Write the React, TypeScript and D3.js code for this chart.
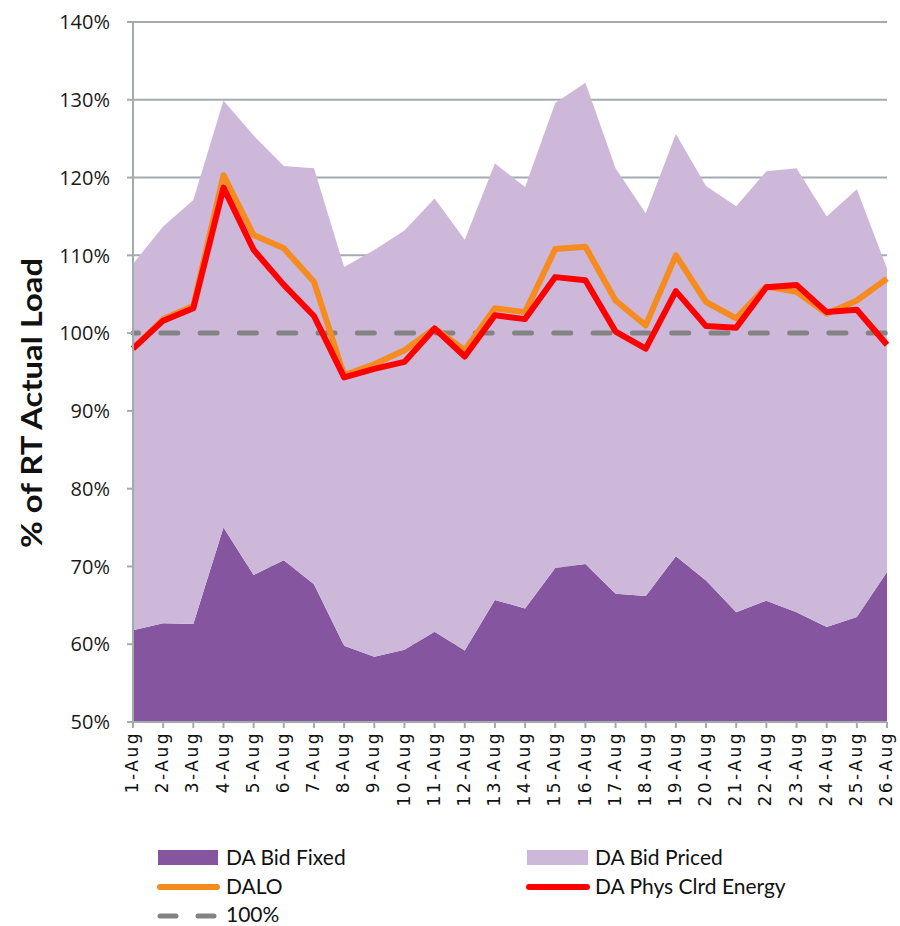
import React from 'react';
import * as d3 from 'd3';

const days = ['1-Aug', '2-Aug', '3-Aug', '4-Aug', '5-Aug', '6-Aug', '7-Aug', '8-Aug', '9-Aug', '10-Aug', '11-Aug', '12-Aug', '13-Aug',
  '14-Aug', '15-Aug', '16-Aug', '17-Aug', '18-Aug', '19-Aug', '20-Aug', '21-Aug', '22-Aug', '23-Aug', '24-Aug', '25-Aug', '26-Aug'];
const bidFixed = [61.8, 62.7, 62.6, 75.0, 68.9, 70.8, 67.7, 59.8, 58.4, 59.3, 61.6, 59.2, 65.7,
  64.6, 69.8, 70.3, 66.5, 66.2, 71.3, 68.2, 64.1, 65.6, 64.1, 62.2, 63.5, 69.3];
const bidPriced = [47.1, 51.0, 54.5, 54.9, 56.5, 50.7, 53.5, 48.7, 52.3, 53.9, 55.7, 52.8, 56.1,
  54.2, 59.8, 61.9, 54.7, 49.2, 54.3, 50.7, 52.2, 55.2, 57.1, 52.8, 55.0, 39.0];
const dalo = [98.0, 101.8, 103.5, 120.3, 112.6, 110.9, 106.6, 94.6, 96.0, 97.8, 100.6, 97.8, 103.2,
  102.7, 110.8, 111.1, 104.2, 101.0, 110.0, 104.0, 101.9, 106.0, 105.3, 102.5, 104.2, 107.0];
const physClrd = [98.0, 101.6, 103.2, 118.7, 110.7, 106.2, 102.2, 94.3, 95.4, 96.3, 100.6, 97.0, 102.3,
  101.8, 107.2, 106.8, 100.2, 98.0, 105.4, 100.9, 100.7, 105.9, 106.2, 102.7, 103.0, 98.5];
const yTicks = [50, 60, 70, 80, 90, 100, 110, 120, 130, 140];
const refLevel = 100;

const W = 900, H = 926;
const left = 133, right = 887, top = 22, bottom = 722;
const gridColor = '#a3abb1';

export default function App() {
  const x = d3.scalePoint<string>().domain(days).range([left, right]);
  const y = d3.scaleLinear().domain([50, 140]).range([bottom, top]);

  const rows = days.map((d, i) => ({ day: d, fixed: bidFixed[i], priced: bidPriced[i] }));
  const stacked = d3.stack<any>().keys(['fixed', 'priced'])(rows);
  const area = d3.area<any>()
    .x(d => x(d.data.day) as number)
    .y0(d => y(d[0]))
    .y1(d => y(d[1]));
  const line = d3.line<number>()
    .x((d, i) => x(days[i]) as number)
    .y(d => y(d));

  const areaColors = ['#8555a0', '#cdb8da'];

  return (
    <svg width={W} height={H} style={{ position: 'absolute', left: 0, top: 0 }}>
      <defs>
        <clipPath id="plot">
          <rect x={left} y={top - 10} width={right - left} height={bottom - top + 10} />
        </clipPath>
      </defs>
      {yTicks.map(t => (
        <line key={'g' + t} x1={left} x2={right} y1={y(t)} y2={y(t)} stroke={gridColor} strokeWidth={2} />
      ))}
      <g clipPath="url(#plot)">
        {stacked.map((s, i) => (
          <path key={s.key} d={area(s) as string} fill={areaColors[i]} />
        ))}
      </g>
      <line x1={left} x2={right} y1={y(refLevel)} y2={y(refLevel)} stroke="#838383" strokeWidth={5}
        strokeDasharray="17 22.3" strokeDashoffset={11.5} strokeLinecap="round" />
      <path d={line(dalo) as string} fill="none" stroke="#f68b1f" strokeWidth={6} strokeLinejoin="round" />
      <path d={line(physClrd) as string} fill="none" stroke="#ff0000" strokeWidth={6} strokeLinejoin="round" />

      {/* axes */}
      <line x1={left} x2={left} y1={top} y2={bottom} stroke={gridColor} strokeWidth={2} />
      <line x1={left} x2={right} y1={bottom} y2={bottom} stroke={gridColor} strokeWidth={2} />
      {yTicks.map(t => (
        <g key={'t' + t}>
          <line x1={left - 6} x2={left} y1={y(t)} y2={y(t)} stroke={gridColor} strokeWidth={2} />
          <text x={110} y={y(t)} dy="0.36em" textAnchor="end" fontFamily="'Open Sans'" fontSize={20} fill="#1a1a1a">{t}%</text>
        </g>
      ))}
      {days.map(d => (
        <g key={d}>
          <line x1={x(d)} x2={x(d)} y1={bottom} y2={bottom + 6} stroke={gridColor} strokeWidth={2} />
          <text transform={`translate(${(x(d) as number) - 1},${bottom + 9}) rotate(-90)`} dy="0.36em" textAnchor="end"
            fontFamily="'DejaVu Sans'" fontSize={17} letterSpacing={2.5} fill="#111">{d}</text>
        </g>
      ))}
      <text transform={`translate(42,403) rotate(-90)`} textAnchor="middle" fontFamily="Lato" fontWeight="bold"
        fontSize={28} textLength={290} lengthAdjust="spacingAndGlyphs" fill="#111">% of RT Actual Load</text>

      {/* legend */}
      <g fontFamily="Lato" fontSize={21} fill="#111">
        <rect x={158} y={850} width={60} height={15} fill={areaColors[0]} />
        <text x={226} y={865}>DA Bid Fixed</text>
        <rect x={527} y={850} width={61} height={15} fill={areaColors[1]} />
        <text x={595} y={865}>DA Bid Priced</text>
        <line x1={160} x2={217} y1={887} y2={887} stroke="#f68b1f" strokeWidth={6} strokeLinecap="round" />
        <text x={226} y={894}>DALO</text>
        <line x1={529} x2={587} y1={887} y2={887} stroke="#ff0000" strokeWidth={6} strokeLinecap="round" />
        <text x={595} y={894}>DA Phys Clrd Energy</text>
        <line x1={160} x2={217} y1={916} y2={916} stroke="#838383" strokeWidth={5} strokeLinecap="round" strokeDasharray="16 22" />
        <text x={226} y={922}>100%</text>
      </g>
    </svg>
  );
}
